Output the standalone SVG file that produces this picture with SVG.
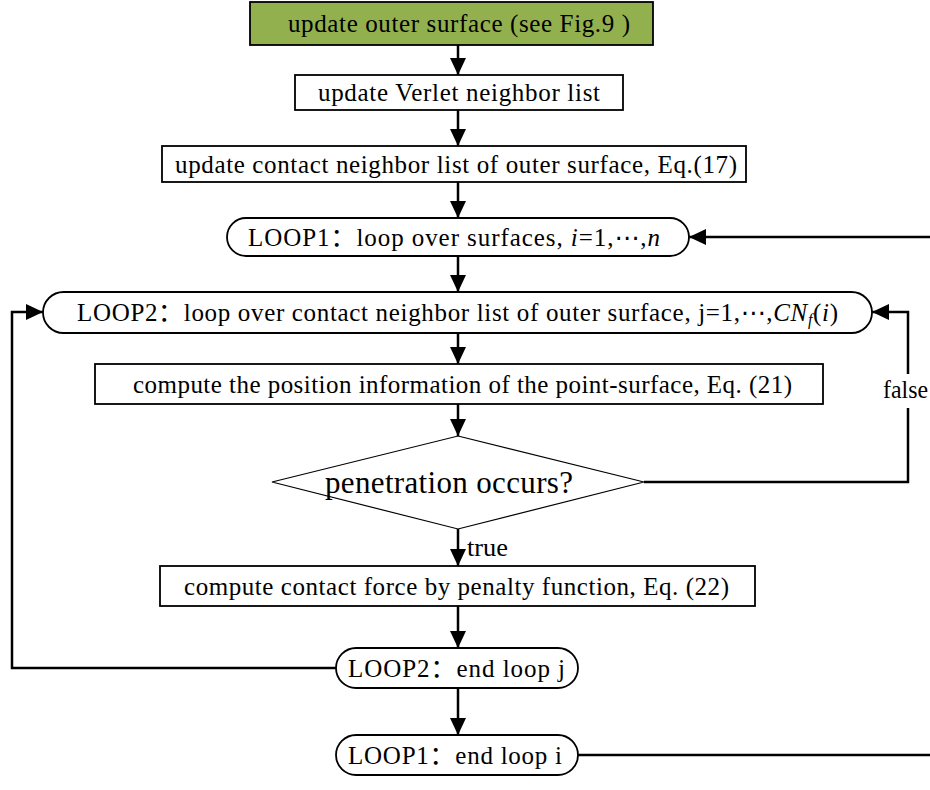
<svg xmlns="http://www.w3.org/2000/svg" width="930" height="790" viewBox="0 0 930 790">
  <style>
    .box { fill: #ffffff; stroke: #000000; stroke-width: 1.8; }
    .start { fill: #92b04e; stroke: #000000; stroke-width: 1.8; }
    .dec { fill: #ffffff; stroke: #000000; stroke-width: 1.2; }
    .lbl { font-family: "Liberation Serif", "Noto Sans CJK SC", serif; font-size: 25px; fill: #000000; }
    .big { font-size: 31px; }
    .dots { font-family: "DejaVu Sans", sans-serif; }
    .sub { font-style: italic; font-size: 16px; }
    .conn { fill: none; stroke: #000000; stroke-width: 2.5; }
  </style>
  <defs>
    <marker id="ah" markerUnits="userSpaceOnUse" markerWidth="18" markerHeight="16" refX="17" refY="8" orient="auto">
      <path d="M0,0 L17,8 L0,16 Z" fill="#000000"/>
    </marker>
  </defs>
  <rect width="930" height="790" fill="#ffffff"/>

  <!-- connectors -->
  <g id="connectors">
    <path class="conn" d="M458,45 V75" marker-end="url(#ah)"/>
    <path class="conn" d="M458,110 V146" marker-end="url(#ah)"/>
    <path class="conn" d="M458,182 V218" marker-end="url(#ah)"/>
    <path class="conn" d="M458,256 V292" marker-end="url(#ah)"/>
    <path class="conn" d="M458,333 V364" marker-end="url(#ah)"/>
    <path class="conn" d="M458,404 V436" marker-end="url(#ah)"/>
    <path class="conn" d="M458,529 V566" marker-end="url(#ah)"/>
    <path class="conn" d="M458,606 V648" marker-end="url(#ah)"/>
    <path class="conn" d="M458,688 V735" marker-end="url(#ah)"/>
    <!-- inner loop back edge -->
    <path class="conn" d="M336,668 H12 V312 H43" marker-end="url(#ah)"/>
    <!-- false branch -->
    <path class="conn" d="M644,482 H908 V312 H872" marker-end="url(#ah)"/>
    <!-- outer loop back edge -->
    <path class="conn" d="M578,755 H930"/>
    <path class="conn" d="M930,237 H689" marker-end="url(#ah)"/>
    <rect x="880" y="374" width="50" height="34" fill="#ffffff"/>
    <text class="lbl" x="883" y="398" textLength="45" lengthAdjust="spacingAndGlyphs">false</text>
    <text class="lbl" x="467" y="556" textLength="41" lengthAdjust="spacingAndGlyphs">true</text>
  </g>

  <g id="n1">
    <rect class="start" x="250" y="2" width="403" height="43"/>
    <text class="lbl" x="288" y="32" textLength="342">update outer surface (see Fig.9 )</text>
  </g>
  <g id="n2">
    <rect class="box" x="295" y="75" width="328" height="35"/>
    <text class="lbl" x="318" y="101" textLength="282">update Verlet neighbor list</text>
  </g>
  <g id="n3">
    <rect class="box" x="162" y="146" width="584" height="36"/>
    <text class="lbl" x="175" y="173" textLength="562">update contact neighbor list of outer surface, Eq.(17)</text>
  </g>
  <g id="n4">
    <rect class="box" x="227" y="218" width="462" height="38" rx="19" ry="19"/>
    <text class="lbl" x="248" y="246" textLength="412">LOOP1：loop over surfaces, <tspan font-style="italic">i</tspan>=1,<tspan class="dots">⋯</tspan>,<tspan font-style="italic">n</tspan></text>
  </g>
  <g id="n5">
    <rect class="box" x="43" y="292" width="829" height="41" rx="20.5" ry="20.5"/>
    <text class="lbl" x="77" y="321" textLength="761">LOOP2：loop over contact neighbor list of outer surface, j=1,<tspan class="dots">⋯</tspan>,<tspan font-style="italic">CN</tspan><tspan class="sub" dy="4">f</tspan><tspan dy="-4">(</tspan><tspan font-style="italic">i</tspan>)</text>
  </g>
  <g id="n6">
    <rect class="box" x="95" y="364" width="728" height="40"/>
    <text class="lbl" x="133" y="393" textLength="659">compute the position information of the point-surface, Eq. (21)</text>
  </g>
  <g id="n7">
    <polygon class="dec" points="458,436 644,482 458,529 272,482"/>
    <text class="lbl big" x="325" y="493" textLength="248">penetration occurs?</text>
  </g>
  <g id="n8">
    <rect class="box" x="160" y="566" width="595" height="40"/>
    <text class="lbl" x="184" y="595" textLength="545">compute contact force by penalty function, Eq. (22)</text>
  </g>
  <g id="n9">
    <rect class="box" x="336" y="648" width="242" height="40" rx="20" ry="20"/>
    <text class="lbl" x="348" y="677" textLength="217">LOOP2：end loop j</text>
  </g>
  <g id="n10">
    <rect class="box" x="336" y="735" width="242" height="40" rx="20" ry="20"/>
    <text class="lbl" x="348" y="764" textLength="214">LOOP1：end loop i</text>
  </g>
</svg>
